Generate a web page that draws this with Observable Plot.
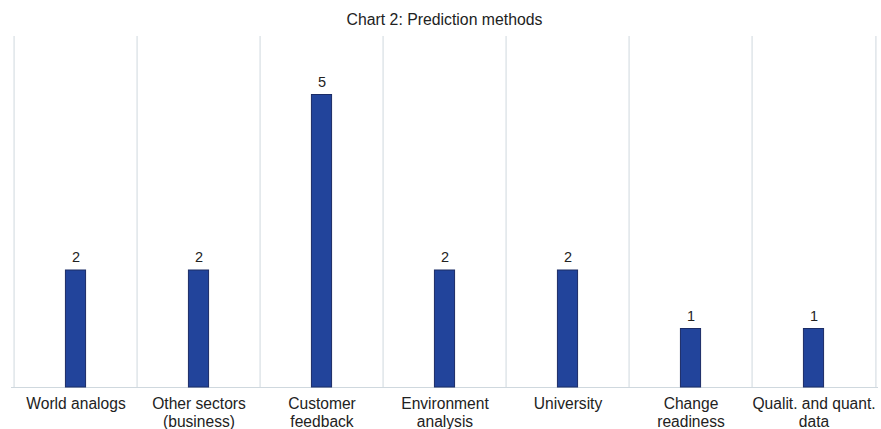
<!DOCTYPE html>
<html>
<head>
<meta charset="utf-8">
<script src="https://cdn.jsdelivr.net/npm/d3@7"></script>
<script src="https://cdn.jsdelivr.net/npm/@observablehq/plot@0.6"></script>
<style>
  html, body { margin: 0; padding: 0; background: #fff; }
  #chart { width: 881px; height: 429px; position: relative; font-family: "Liberation Sans", Arial, sans-serif; }
  #title { position: absolute; left: 11px; width: 867px; top: 0; height: 36px; line-height: 40px;
           text-align: center; font-size: 15.8px; color: #222; }
  #plot { position: absolute; left: 0; top: 36px; }
</style>
</head>
<body>
<div id="chart">
  <div id="title">Chart 2: Prediction methods</div>
  <div id="plot"></div>
</div>
<script>
// Prediction methods and how many times each was mentioned
const methods = [
  "World analogs",
  "Other sectors\n(business)",
  "Customer\nfeedback",
  "Environment\nanalysis",
  "University",
  "Change\nreadiness",
  "Qualit. and quant.\ndata"
];
const counts = [2, 2, 5, 2, 2, 1, 1];

const data = methods.map((method, i) => ({method, count: counts[i]}));

const width = 881;
const height = 393;
const marginLeft = 11, marginRight = 3, marginBottom = 42;
const step = (width - marginLeft - marginRight) / methods.length;
const barWidth = 21;
const inset = (step - barWidth) / 2;
const gridColor = "#cfd8de";
const font = "Liberation Sans, Arial, sans-serif";

const chart = Plot.plot({
  width,
  height,
  marginTop: 0,
  marginLeft,
  marginRight,
  marginBottom,
  style: {fontFamily: font, background: "#fff"},
  x: {type: "band", domain: methods, padding: 0, axis: null},
  y: {domain: [0, 6], axis: null},
  marks: [
    // vertical separators between categories
    Plot.ruleX(methods, {x: d => d, dx: -step / 2, y1: 0, y2: 6, stroke: gridColor, strokeWidth: 1}),
    Plot.ruleX(methods.slice(-1), {x: d => d, dx: step / 2, y1: 0, y2: 6, stroke: gridColor, strokeWidth: 1}),
    Plot.ruleY([0], {stroke: gridColor}),
    Plot.barY(data, {
      x: "method", y: "count",
      insetLeft: inset, insetRight: inset,
      fill: "#22449b", stroke: "#1b2c66", strokeWidth: 1
    }),
    // value labels above bars
    Plot.text(data, {
      x: "method", y: "count", text: d => String(d.count),
      dy: -13, fontSize: 14.5, fill: "#222", fontFamily: font
    }),
    // category labels below baseline
    Plot.text(methods, {
      x: d => d, text: d => d,
      frameAnchor: "bottom", lineAnchor: "top", dy: 8.5,
      lineHeight: 1.15, fontSize: 15.6, fill: "#222", fontFamily: font
    })
  ]
});

document.getElementById("plot").appendChild(chart);
</script>
</body>
</html>
